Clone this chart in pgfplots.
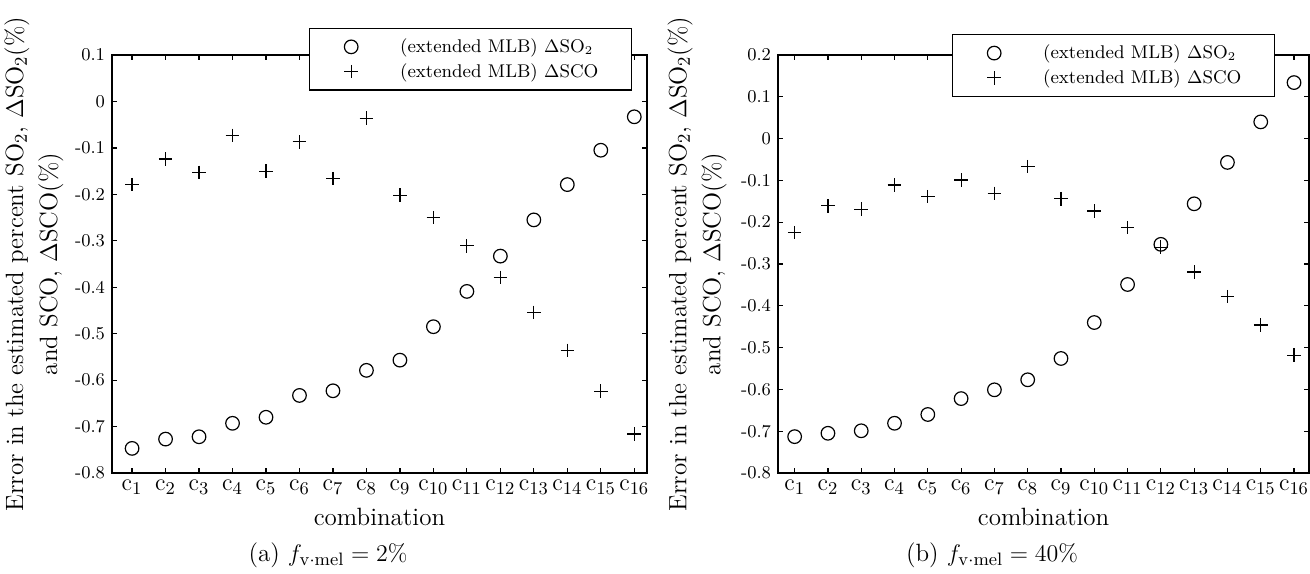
\documentclass[border=0pt]{standalone}
\usepackage{pgfplots}
\pgfplotsset{compat=1.18}
\begin{document}
\begin{tikzpicture}
\pgfplotsset{
  myax/.style={
    scale only axis, height=209pt,
    axis line style={line width=0.8pt},
    every tick/.style={black, line width=0.6pt},
    major tick length=2.5pt,
    tick align=inside,
    xtick={1,2,3,4,5,6,7,8,9,10,11,12,13,14,15,16},
    xticklabels={$\mathrm{c}_{1}$,$\mathrm{c}_{2}$,$\mathrm{c}_{3}$,$\mathrm{c}_{4}$,$\mathrm{c}_{5}$,$\mathrm{c}_{6}$,$\mathrm{c}_{7}$,$\mathrm{c}_{8}$,$\mathrm{c}_{9}$,$\mathrm{c}_{10}$,$\mathrm{c}_{11}$,$\mathrm{c}_{12}$,$\mathrm{c}_{13}$,$\mathrm{c}_{14}$,$\mathrm{c}_{15}$,$\mathrm{c}_{16}$},
    xticklabel style={font=\fontsize{12.5}{15}\selectfont},
    yticklabel style={font=\fontsize{9}{11}\selectfont},
    xlabel={combination},
    xlabel style={font=\fontsize{12.5}{15}\selectfont},
    ylabel={Error in the estimated percent SO$_2$, $\Delta$SO$_2$(\%)\\and SCO, $\Delta$SCO(\%)},
    ylabel style={font=\fontsize{12.5}{17}\selectfont, align=center, inner sep=0pt, anchor=south},
    legend image code/.code={\path[draw=none,fill=none] (0pt,-3pt) rectangle (40.5pt,3pt); \draw[##1] plot coordinates {(18pt,0pt)};},
    legend style={font=\fontsize{9.2}{11}\selectfont, draw=black, line width=0.6pt, anchor=north east, inner xsep=3pt, inner ysep=3pt, cells={anchor=west}},
  },
  so/.style={only marks, mark=o, mark size=3.4pt, black, line width=0.6pt},
  sco/.style={only marks, mark=+, mark size=3.4pt, black, line width=0.6pt},
}
\path[use as bounding box] (0,0) rectangle (655pt,286.5pt);

\begin{axis}[myax, at={(56pt,50pt)}, anchor=south west, width=267.5pt,
  xmin=0.4, xmax=16.38, ymin=-0.8, ymax=0.1,
  ytick={-0.8,-0.7,-0.6,-0.5,-0.4,-0.3,-0.2,-0.1,0,0.1},
  yticklabels={-0.8,-0.7,-0.6,-0.5,-0.4,-0.3,-0.2,-0.1,0,0.1},
  ylabel style={at={(axis description cs:-0.09,0.5)}},
  legend style={at={(0.972,1.065)}}]
\addplot[so] coordinates {(1,-0.747) (2,-0.727) (3,-0.722) (4,-0.693) (5,-0.680) (6,-0.633) (7,-0.623) (8,-0.579) (9,-0.557) (10,-0.485) (11,-0.409) (12,-0.333) (13,-0.255) (14,-0.179) (15,-0.105) (16,-0.033)};
\addlegendentry{(extended MLB) $\Delta$SO$_2$}
\addplot[sco] coordinates {(1,-0.179) (2,-0.124) (3,-0.153) (4,-0.073) (5,-0.150) (6,-0.087) (7,-0.166) (8,-0.036) (9,-0.202) (10,-0.250) (11,-0.311) (12,-0.379) (13,-0.454) (14,-0.536) (15,-0.624) (16,-0.716)};
\addlegendentry{(extended MLB) $\Delta$SCO\hspace*{11.5pt}}
\end{axis}

\begin{axis}[myax, at={(389pt,50pt)}, anchor=south west, width=265.5pt,
  xmin=0.5, xmax=16.45, ymin=-0.8, ymax=0.2,
  ytick={-0.8,-0.7,-0.6,-0.5,-0.4,-0.3,-0.2,-0.1,0,0.1,0.2},
  yticklabels={-0.8,-0.7,-0.6,-0.5,-0.4,-0.3,-0.2,-0.1,0,0.1,0.2},
  ylabel style={at={(axis description cs:-0.096,0.5)}},
  legend style={at={(0.936,1.05)}}]
\addplot[so] coordinates {(1,-0.713) (2,-0.705) (3,-0.699) (4,-0.681) (5,-0.660) (6,-0.622) (7,-0.601) (8,-0.577) (9,-0.526) (10,-0.440) (11,-0.349) (12,-0.253) (13,-0.156) (14,-0.057) (15,0.040) (16,0.134)};
\addlegendentry{(extended MLB) $\Delta$SO$_2$}
\addplot[sco] coordinates {(1,-0.225) (2,-0.161) (3,-0.169) (4,-0.111) (5,-0.139) (6,-0.099) (7,-0.131) (8,-0.067) (9,-0.144) (10,-0.173) (11,-0.213) (12,-0.260) (13,-0.319) (14,-0.378) (15,-0.446) (16,-0.518)};
\addlegendentry{(extended MLB) $\Delta$SCO\hspace*{11.5pt}}
\end{axis}

\node[font=\fontsize{12.5}{15}\selectfont] at (164pt,9pt) {(a) $f_{\mathrm{v\cdot mel}}=2\%$};
\node[font=\fontsize{12.5}{15}\selectfont] at (496pt,9pt) {(b) $f_{\mathrm{v\cdot mel}}=40\%$};
\end{tikzpicture}
\end{document}
